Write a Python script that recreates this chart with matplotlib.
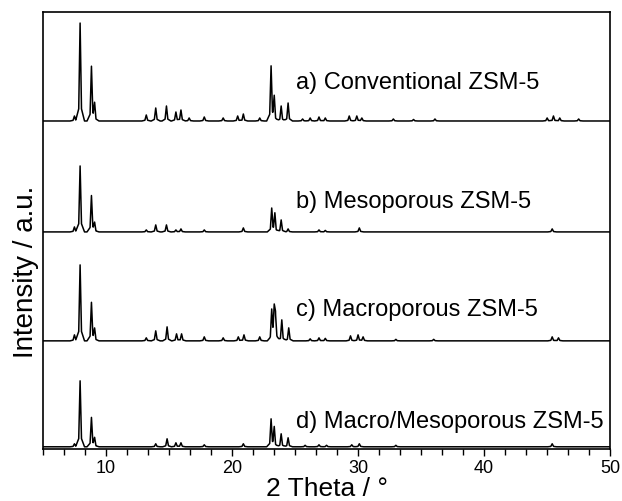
import numpy as np
import matplotlib
matplotlib.use("Agg")
import matplotlib.pyplot as plt
from matplotlib.ticker import MultipleLocator

plt.rcParams['font.family'] = ['Liberation Sans', 'DejaVu Sans']

# ---- data (2theta in degrees, peak heights in arbitrary units) ----
labels = ["a) Conventional ZSM-5", "b) Mesoporous ZSM-5",
          "c) Macroporous ZSM-5", "d) Macro/Mesoporous ZSM-5"]
offsets = [328, 217, 108, 2]

pos_a = [7.5, 7.95, 8.85, 9.1, 13.2, 13.95, 14.8, 15.55, 15.95, 16.6, 17.8, 19.3,
         20.45, 20.9, 22.2, 23.1, 23.35, 23.9, 24.45, 25.6, 26.2, 26.9, 27.4,
         29.3, 29.9, 30.3, 32.8, 34.4, 36.1, 45.0, 45.5, 46.0, 47.5]
h_a = [5, 98, 54, 16, 6, 13, 15, 9, 11, 3, 4, 3, 5, 7, 3, 54, 23, 15, 18, 2, 3,
       4, 3, 5, 5, 3, 2, 1.5, 2, 3, 5, 3, 2]

pos_b = [7.5, 7.95, 8.85, 9.1, 13.2, 13.95, 14.8, 15.55, 15.95, 17.8, 20.9,
         23.15, 23.4, 23.9, 24.45, 26.9, 27.4, 30.1, 45.4]
h_b = [5, 66, 36, 8, 2, 7, 7, 2, 3, 2, 4, 23, 18, 12, 3, 2, 1.5, 4, 3]

pos_c = [7.5, 7.95, 8.85, 9.1, 13.2, 13.95, 14.85, 15.6, 16.0, 17.8, 19.3,
         20.5, 20.95, 22.2, 23.15, 23.35, 23.45, 23.95, 24.5, 26.2, 26.9,
         27.4, 29.4, 30.0, 30.4, 33.0, 36.0, 45.4, 45.9]
h_c = [6, 76, 38, 11, 3, 10, 14, 7, 7, 4, 3, 4, 6, 4, 29, 30, 23, 21, 13, 2,
       3, 2.5, 5, 6, 4, 1.5, 1.5, 4, 3]

pos_d = [7.5, 7.95, 8.85, 9.1, 13.95, 14.85, 15.55, 15.95, 17.8, 20.9,
         23.1, 23.35, 23.9, 24.45, 25.8, 26.9, 27.5, 29.5, 30.1, 33.0, 45.4]
h_d = [3, 66, 29, 8, 3, 8, 4, 4, 2, 3, 27, 19, 13, 9, 1.5, 2, 1.5, 2, 3, 1.5, 3]

positions = [pos_a, pos_b, pos_c, pos_d]
heights = [h_a, h_b, h_c, h_d]

x_min, x_max = 5, 50
w_narrow, w_broad = 0.11, 0.35


def tri(xs, p, w):
    return np.clip(1 - np.abs(xs - p) / w, 0, None)


fig = plt.figure(figsize=(6.22, 5.02), dpi=100)
ax = fig.add_axes([0.069, 0.104, 0.912, 0.870])

for pos, hts, off in zip(positions, heights, offsets):
    pos = np.asarray(pos, float)
    hts = np.asarray(hts, float)
    xs = np.sort(np.concatenate([[x_min, x_max], pos - w_broad, pos - w_narrow,
                                 pos, pos + w_narrow, pos + w_broad]))
    ys = np.zeros_like(xs)
    for p, h in zip(pos, hts):
        ys += h * (0.82 * tri(xs, p, w_narrow) + 0.18 * tri(xs, p, w_broad))
    ax.plot(xs, ys + off, color='black', lw=1.1)

label_y = [83, 202, 310, 422]
for lab, ly in zip(labels, label_y):
    ax.text(0.447, 1 - (ly - 13) / 437.0, lab, transform=ax.transAxes,
            fontsize=17, va='center', ha='left')

ax.set_xlim(x_min, x_max)
ax.set_ylim(0, 437)
ax.set_yticks([])
ax.xaxis.set_major_locator(MultipleLocator(10))
ax.xaxis.set_minor_locator(MultipleLocator(10 / 6))
ax.tick_params(axis='x', which='major', direction='out', length=5, width=1,
               labelsize=13, pad=2)
ax.tick_params(axis='x', which='minor', direction='out', length=4, width=1)
for s in ax.spines.values():
    s.set_linewidth(1.2)
ax.set_xlabel("2 Theta / °", fontsize=19, labelpad=0)
fig.text(26 / 622, 1 - 272 / 502, "Intensity / a.u.", rotation=90,
         fontsize=20, ha='center', va='center')

fig.savefig("out.png", dpi=100)
